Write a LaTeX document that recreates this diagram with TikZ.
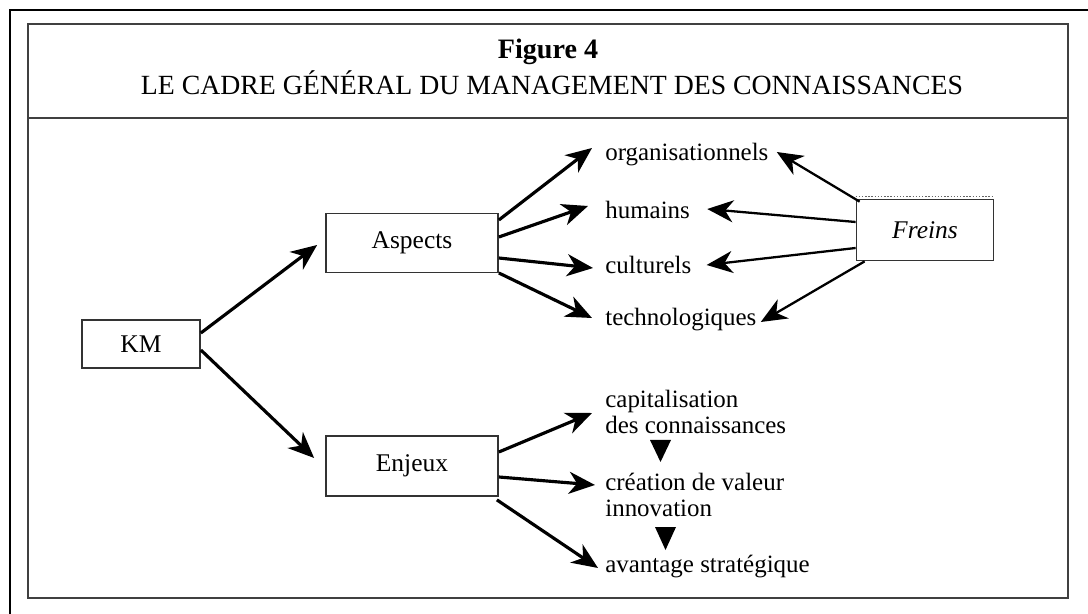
\documentclass[tikz,border=0pt]{standalone}
\usepackage{fontspec}
\setmainfont{Liberation Serif}
\usetikzlibrary{arrows.meta}

\begin{document}
\begin{tikzpicture}[
  x=0.02cm,y=-0.02cm,
  >={Stealth[length=5.2mm,width=4.4mm,inset=1.6mm]},
  box/.style={draw=black!80,line width=1pt,font=\fontsize{14.5}{16}\selectfont},
  item/.style={anchor=west,inner sep=0pt,align=left,font=\fontsize{14.2}{14.6}\selectfont},
  flow/.style={->,line width=1.8pt},
  brake/.style={->,line width=1.3pt},
  step mark/.style={fill=black}
]
  \useasboundingbox (0,0) rectangle (1088,614);
  \draw[line width=1.5pt] (10,614) -- (10,10) -- (1088,10);
  \draw[black!75,line width=1.3pt] (28,24) rectangle (1068,598);
  \draw[black!75,line width=1.3pt] (28,118) -- (1068,118);
  \node[font=\fontsize{16}{18}\bfseries\selectfont] (fig) at (548,52) {Figure 4};
  \node[font=\fontsize{15.8}{18}\selectfont] (title) at (552,83) {LE CADRE GÉNÉRAL DU MANAGEMENT DES CONNAISSANCES};

  \node[box,minimum width=2.36cm,minimum height=0.96cm] (km) at (141,344) {KM};
  \node[box,minimum width=3.44cm,minimum height=1.18cm] (asp) at (412,243) {Aspects};
  \node[box,minimum width=3.44cm,minimum height=1.2cm] (enj) at (412,466) {Enjeux};
  \node[box,minimum width=2.74cm,minimum height=1.22cm,font=\fontsize{14.5}{16}\selectfont\itshape] (frn) at (925,230) {Freins};
  \draw[black!60,densely dotted,line width=0.8pt] ([yshift=1.3pt]frn.north west) -- ([yshift=1.3pt]frn.north east);

  \node[item] (org) at (605,155) {organisationnels};
  \node[item] (hum) at (605,210) {humains};
  \node[item] (cul) at (605,265) {culturels};
  \node[item] (tech) at (605,320) {technologiques};
  \node[item] (cap) at (605,412) {capitalisation\\des connaissances};
  \node[item] (cre) at (605,495) {création de valeur\\innovation};
  \node[item] (ava) at (605,567) {avantage stratégique};

  \draw[flow] ([shift={(0,-11)}]km.east) -- ([shift={(-8,2)}]asp.west);
  \draw[flow] ([shift={(0,6)}]km.east) -- ([shift={(-11,-8)}]enj.west);

  \draw[flow] ([shift={(0,-23)}]asp.east) -- ([shift={(-13,-7)}]org.west);
  \draw[flow] ([shift={(0,-6)}]asp.east) -- ([shift={(-17,-4)}]hum.west);
  \draw[flow] ([shift={(0,15)}]asp.east) -- ([shift={(-12,3)}]cul.west);
  \draw[flow] ([shift={(0,30)}]asp.east) -- ([shift={(-13,-2)}]tech.west);

  \draw[brake] ([shift={(4,3)}]frn.north west) -- ([shift={(8,-3)}]org.east);
  \draw[brake] ([shift={(0,-8)}]frn.west) -- ([shift={(17,-1)}]hum.east);
  \draw[brake] ([shift={(0,18)}]frn.west) -- ([shift={(15,0)}]cul.east);
  \draw[brake] ([shift={(9,0)}]frn.south west) -- ([shift={(4,2)}]tech.east);

  \draw[flow] ([shift={(0,-14)}]enj.east) -- ([shift={(-13,1)}]cap.west);
  \draw[flow] ([shift={(0,11)}]enj.east) -- ([shift={(-10,-10)}]cre.west);
  \draw[flow] ([shift={(-2,3)}]enj.south east) -- ([shift={(-7,1)}]ava.west);

  \fill[step mark] (650,440) -- (671,440) -- (660.5,462) -- cycle;
  \fill[step mark] (655,527) -- (676,527) -- (665.5,550) -- cycle;
\end{tikzpicture}
\end{document}
